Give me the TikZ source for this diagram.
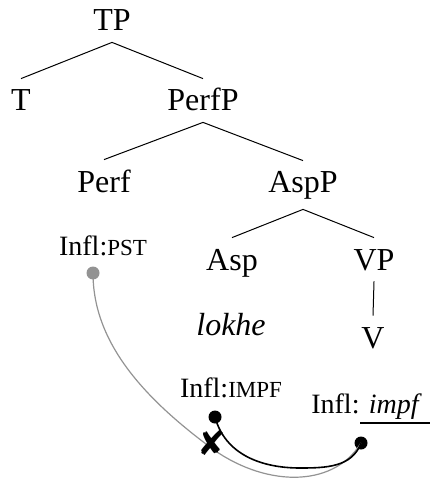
\documentclass[tikz,border=0pt]{standalone}
\usepackage{fontspec}
\setmainfont{Liberation Serif}
\newfontfamily\symfont{DejaVu Sans}
\newcommand{\fsc}[1]{{\fontsize{11.5}{11.5}\selectfont #1}}
\begin{document}
\begin{tikzpicture}[x=0.5pt,y=-0.5pt,
  lbl/.style={anchor=base,inner sep=0pt,font=\fontsize{16}{19}\selectfont},
  infl/.style={anchor=base,inner sep=0pt,font=\fontsize{14}{17}\selectfont},
  cat/.style={lbl,text height=16pt,text depth=5.5pt},
  br/.style={line width=0.5pt},
  dot/.style={circle,fill=black,inner sep=0pt,minimum size=6.5pt},
  gdot/.style={dot,fill=gray!85},
  gline/.style={gray!85,line width=0.6pt},
  bline/.style={black,line width=0.8pt}]
\useasboundingbox (0,0) rectangle (430,480);
\node[cat] (TP) at (112,31) {TP};
\node[cat] (T) at (21,111) {T};
\node[cat] (PerfP) at (203,111) {PerfP};
\node[cat] (Perf) at (104,192) {Perf};
\node[cat,text depth=8pt] (AspP) at (303,193) {AspP};
\node[cat] (Asp) at (232,270) {Asp};
\node[cat] (VP) at (374,270) {VP};
\node[cat] (V) at (373,348) {V};
\node[lbl] (lokhe) at (231,335) {\itshape lokhe};
\node[infl] (pst) at (103,255) {Infl:\fsc{PST}};
\node[infl] (impfF) at (231,397) {Infl:\fsc{IMPF}};
\node[infl] (impfi) at (365,413) {Infl: \itshape impf};
\draw[br] (TP.south) -- (T.north);
\draw[br] (TP.south) -- (PerfP.north);
\draw[br] (PerfP.south) -- (Perf.north);
\draw[br] (PerfP.south) -- (AspP.north);
\draw[br] (AspP.south) -- (Asp.north);
\draw[br] (AspP.south) -- (VP.north);
\draw[br] (VP.south) -- (V.north);
\coordinate (ul1) at (360,423);
\coordinate (ul2) at (430,423);
\draw[line width=1.4pt] (ul1) -- (ul2);
\node[gdot] (g) at (93,273) {};
\node[dot] (b) at (215,417) {};
\node[dot] (t) at (361,443) {};
\draw[gline] (g.center) .. controls (93,340) and (140,395) .. (210,447)
  .. controls (262,486) and (332,490) .. (t.center);
\draw[bline] (b.center) to[out=-75,in=180] (300,468) to[out=0,in=-110] (t.center);
\node[inner sep=0pt,font=\symfont\fontsize{17}{17}\selectfont] (x) at (212,443) {✘};
\end{tikzpicture}
\end{document}
